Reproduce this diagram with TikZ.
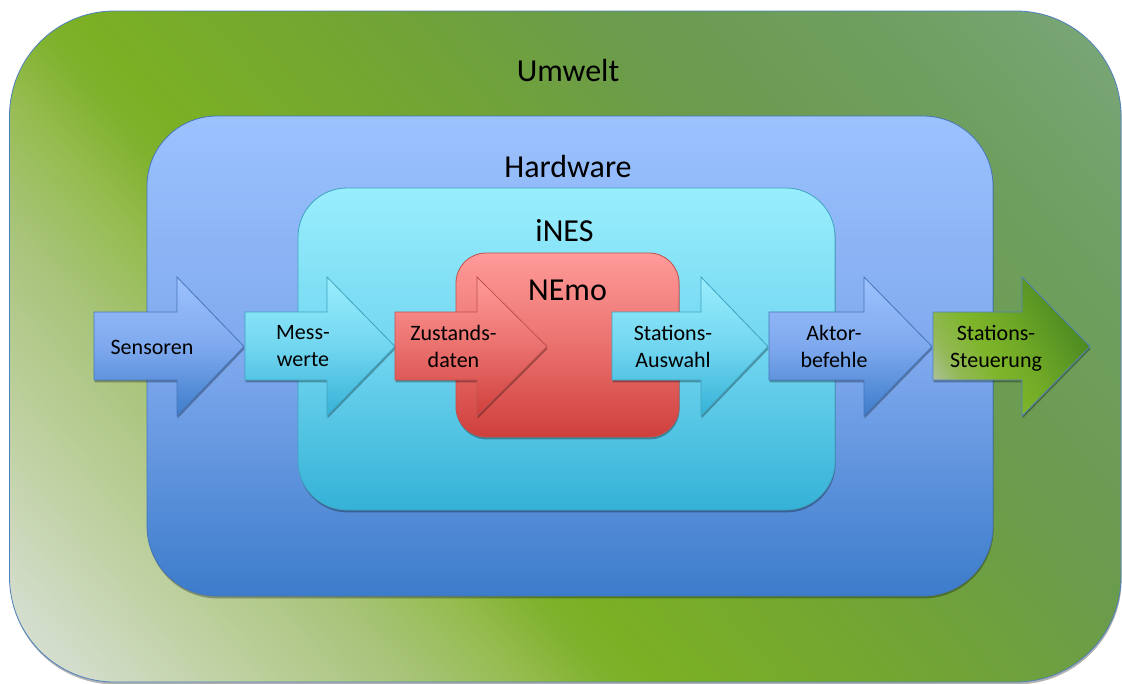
\documentclass[tikz,border=0pt]{standalone}
\usepackage{fontspec}
\setmainfont{Carlito}
\usetikzlibrary{shadows}

% Umwelt: diagonal green gradient
\definecolor{uwA}{HTML}{DDE3D9}
\definecolor{uwA2}{HTML}{D2DCC9}
\definecolor{uwB}{HTML}{C1D2A5}
\definecolor{uwB2}{HTML}{A8C47A}
\definecolor{uwC}{HTML}{96BC50}
\definecolor{uwC2}{HTML}{80B22E}
\definecolor{uwD}{HTML}{7BB024}
\definecolor{uwE}{HTML}{72A533}
\definecolor{uwF}{HTML}{6B9B4C}
\definecolor{uwG}{HTML}{6F9F60}
\definecolor{uwH}{HTML}{7BA77B}
\definecolor{uwLine}{HTML}{4F81BD}
% Hardware
\definecolor{hwTop}{HTML}{9CC2FE}
\definecolor{hwMid}{HTML}{7FA9EE}
\definecolor{hwBot}{HTML}{3C7CCA}
\definecolor{hwLine}{HTML}{4676B9}
% iNES
\definecolor{inTop}{HTML}{99EEFD}
\definecolor{inMid}{HTML}{72D6F0}
\definecolor{inBot}{HTML}{35B2D7}
\definecolor{inLine}{HTML}{3FA3C0}
% NEmo
\definecolor{neTop}{HTML}{FF9B99}
\definecolor{neMid}{HTML}{EA716E}
\definecolor{neBot}{HTML}{CF3F3C}
\definecolor{neLine}{HTML}{C0504D}
% Stations-Steuerung
\definecolor{stA}{HTML}{B2C2A8}
\definecolor{stB}{HTML}{93B957}
\definecolor{stC}{HTML}{7EB52A}
\definecolor{stD}{HTML}{70A926}
\definecolor{stE}{HTML}{5A9624}
\definecolor{stF}{HTML}{48871F}

% the path's bounding box spans 25bp..75bp of each shading
\pgfdeclarehorizontalshading{uwshade}{100bp}{color(0bp)=(uwA); color(27.1bp)=(uwA); color(29.4bp)=(uwA2); color(32.9bp)=(uwB); color(37.9bp)=(uwB2); color(41bp)=(uwC); color(43.2bp)=(uwC2); color(44.6bp)=(uwD); color(51.8bp)=(uwE); color(58.9bp)=(uwF); color(66.1bp)=(uwG); color(72.9bp)=(uwH); color(100bp)=(uwH)}
\pgfdeclareverticalshading{hwshade}{100bp}{color(0bp)=(hwBot); color(25bp)=(hwBot); color(50bp)=(hwMid); color(75bp)=(hwTop); color(100bp)=(hwTop)}
\pgfdeclareverticalshading{inshade}{100bp}{color(0bp)=(inBot); color(25bp)=(inBot); color(50bp)=(inMid); color(75bp)=(inTop); color(100bp)=(inTop)}
\pgfdeclareverticalshading{neshade}{100bp}{color(0bp)=(neBot); color(25bp)=(neBot); color(50bp)=(neMid); color(75bp)=(neTop); color(100bp)=(neTop)}
\pgfdeclarehorizontalshading{stshade}{100bp}{color(0bp)=(stA); color(31.2bp)=(stA); color(37.5bp)=(stB); color(44.8bp)=(stC); color(52bp)=(stD); color(59.4bp)=(stE); color(65.6bp)=(stF); color(100bp)=(stF)}

\begin{document}
\begin{tikzpicture}[x=1pt, y=-1pt,
  boxshadow/.style={drop shadow={shadow xshift=0.6pt, shadow yshift=-2.4pt, opacity=0.3, fill=black}},
  outline/.style={line width=0.8pt},
  blockarrow/.style n args={3}{insert path={(#1,312) -- (#2,312) -- (#2,277) -- (#3,346.5) -- (#2,416) -- (#2,380) -- (#1,380) -- cycle}},
  hwarrow/.style={shading=hwshade, draw=hwLine, outline, boxshadow},
  inarrow/.style={shading=inshade, draw=inLine, outline, boxshadow},
  nearrow/.style={shading=neshade, draw=neLine, outline, boxshadow},
  boxtitle/.style={font=\fontsize{32}{38}\selectfont, anchor=base, inner sep=0pt},
  flowtext/.style={font=\fontsize{22}{27}\selectfont, align=center, inner sep=0pt}
]
\useasboundingbox (0,0) rectangle (1122,683);

% Umwelt
\path[boxshadow, rounded corners=105] (9.5,11) rectangle (1121,682);
\begin{scope}
  \clip[rounded corners=105] (9.5,11) rectangle (1121,682);
  \begin{scope}[transform canvas={shift={(565,346.5)}, rotate=41}]
    \shade[shading=uwshade] (-700,-700) rectangle (700,700);
  \end{scope}
\end{scope}
\draw[uwLine, outline, rounded corners=105] (9.5,11) rectangle (1121,682);
\node[boxtitle] (umwelt) at (568,81.7) {Umwelt};

% Hardware
\shade[shading=hwshade, draw=hwLine, outline, boxshadow, rounded corners=70] (147,116) rectangle (993,596);
\node[boxtitle] (hardware) at (568,177.3) {Hardware};

% iNES
\shade[shading=inshade, draw=inLine, outline, boxshadow, rounded corners=49] (298,188) rectangle (835,510);
\node[boxtitle] (ines) at (564.5,241.7) {iNES};

% NEmo
\shade[shading=neshade, draw=neLine, outline, boxshadow, rounded corners=30] (456,253) rectangle (679,437);
\node[boxtitle] (nemo) at (567.5,300) {NEmo};

% processing chain
\shade[hwarrow] [blockarrow={94}{177}{244}];
\shade[inarrow] [blockarrow={245}{327}{395}];
\shade[nearrow] [blockarrow={395}{477}{547}];
\shade[inarrow] [blockarrow={612}{701}{768}];
\shade[hwarrow] [blockarrow={769}{864}{932}];

\path[boxshadow] [blockarrow={933}{1022}{1090}];
\begin{scope}
  \clip [blockarrow={933}{1022}{1090}];
  \begin{scope}[transform canvas={shift={(1011,346.5)}, rotate=30}]
    \shade[shading=stshade] (-120,-120) rectangle (120,120);
  \end{scope}
\end{scope}
\draw[uwLine, outline] [blockarrow={933}{1022}{1090}];

\node[flowtext] (sensoren) at (152,347) {Sensoren};
\node[flowtext] (messwerte) at (303,346) {Mess-\\werte};
\node[flowtext] (zustand) at (453.5,346) {Zustands-\\daten};
\node[flowtext] (auswahl) at (673,346) {Stations-\\Auswahl};
\node[flowtext] (aktor) at (834,346) {Aktor-\\befehle};
\node[flowtext] (steuerung) at (996,348) {Stations-\\Steuerung};
\end{tikzpicture}
\end{document}
